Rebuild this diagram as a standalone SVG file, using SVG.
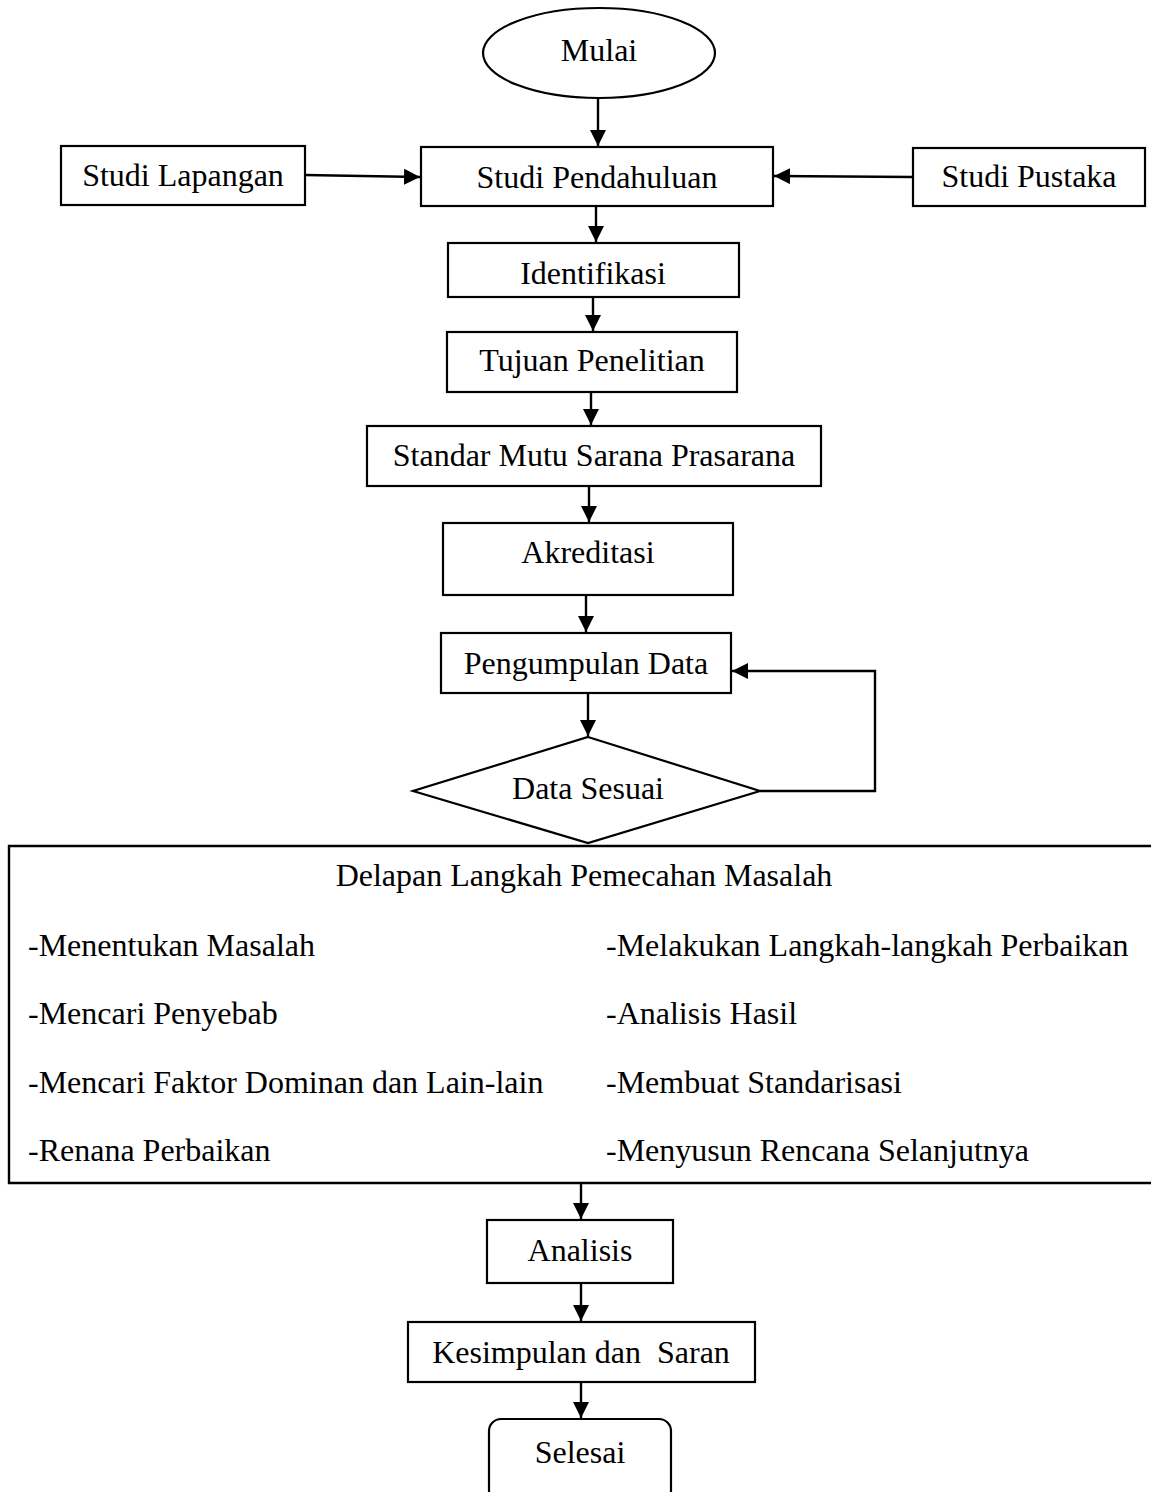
<svg xmlns="http://www.w3.org/2000/svg" width="1151" height="1492" viewBox="0 0 1151 1492">
<style>
.s{fill:#fff;stroke:#000;stroke-width:2.2}
.t{font-family:"Liberation Serif","Times New Roman",serif;font-size:32px;fill:#000}
.m{text-anchor:middle}
.c{fill:none;stroke:#000;stroke-width:2.4}
</style>
<defs>
<marker id="ah" markerUnits="userSpaceOnUse" markerWidth="17" markerHeight="16" refX="16" refY="8" orient="auto">
<path d="M0,0 L16,8 L0,16 z" fill="#000"/>
</marker>
</defs>
<rect width="1151" height="1492" fill="#fff"/>
<g id="connectors">
<line class="c" x1="598" y1="99" x2="598" y2="146" marker-end="url(#ah)"/>
<line class="c" x1="305" y1="175" x2="420" y2="177" marker-end="url(#ah)"/>
<line class="c" x1="913" y1="177" x2="774" y2="176" marker-end="url(#ah)"/>
<line class="c" x1="596" y1="206" x2="596" y2="242" marker-end="url(#ah)"/>
<line class="c" x1="593" y1="297" x2="593" y2="331" marker-end="url(#ah)"/>
<line class="c" x1="591" y1="392" x2="591" y2="425" marker-end="url(#ah)"/>
<line class="c" x1="589" y1="486" x2="589" y2="522" marker-end="url(#ah)"/>
<line class="c" x1="586" y1="595" x2="586" y2="632" marker-end="url(#ah)"/>
<line class="c" x1="588" y1="693" x2="588" y2="736" marker-end="url(#ah)"/>
<polyline class="c" points="760,791 875,791 875,671 732,671" marker-end="url(#ah)"/>
<line class="c" x1="581" y1="1183" x2="581" y2="1219" marker-end="url(#ah)"/>
<line class="c" x1="581" y1="1283" x2="581" y2="1321" marker-end="url(#ah)"/>
<line class="c" x1="581" y1="1382" x2="581" y2="1418" marker-end="url(#ah)"/>
</g>
<g id="mulai">
<ellipse class="s" cx="599" cy="53" rx="116" ry="45"/>
<text class="t m" x="599" y="61">Mulai</text>
</g>
<g id="studi-lapangan">
<rect class="s" x="61" y="146" width="244" height="59"/>
<text class="t m" x="183" y="186">Studi Lapangan</text>
</g>
<g id="studi-pendahuluan">
<rect class="s" x="421" y="147" width="352" height="59"/>
<text class="t m" x="597" y="188">Studi Pendahuluan</text>
</g>
<g id="studi-pustaka">
<rect class="s" x="913" y="148" width="232" height="58"/>
<text class="t m" x="1029" y="187">Studi Pustaka</text>
</g>
<g id="identifikasi">
<rect class="s" x="448" y="243" width="291" height="54"/>
<text class="t m" x="593" y="284">Identifikasi</text>
</g>
<g id="tujuan">
<rect class="s" x="447" y="332" width="290" height="60"/>
<text class="t m" x="592" y="371">Tujuan Penelitian</text>
</g>
<g id="standar">
<rect class="s" x="367" y="426" width="454" height="60"/>
<text class="t m" x="594" y="466">Standar Mutu Sarana Prasarana</text>
</g>
<g id="akreditasi">
<rect class="s" x="443" y="523" width="290" height="72"/>
<text class="t m" x="588" y="563">Akreditasi</text>
</g>
<g id="pengumpulan">
<rect class="s" x="441" y="633" width="290" height="60"/>
<text class="t m" x="586" y="674">Pengumpulan Data</text>
</g>
<g id="data-sesuai">
<polygon class="s" points="588,737 760,791 588,843 413,791"/>
<text class="t m" x="588" y="799">Data Sesuai</text>
</g>
<g id="delapan-langkah">
<path class="c" d="M1151,846 H9 V1183 H1151"/>
<text class="t m" x="584" y="886">Delapan Langkah Pemecahan Masalah</text>
<text class="t" x="28" y="956">-Menentukan Masalah</text>
<text class="t" x="28" y="1024">-Mencari Penyebab</text>
<text class="t" x="28" y="1093">-Mencari Faktor Dominan dan Lain-lain</text>
<text class="t" x="28" y="1161">-Renana Perbaikan</text>
<text class="t" x="606" y="956">-Melakukan Langkah-langkah Perbaikan</text>
<text class="t" x="606" y="1024">-Analisis Hasil</text>
<text class="t" x="606" y="1093">-Membuat Standarisasi</text>
<text class="t" x="606" y="1161">-Menyusun Rencana Selanjutnya</text>
</g>
<g id="analisis">
<rect class="s" x="487" y="1220" width="186" height="63"/>
<text class="t m" x="580" y="1261">Analisis</text>
</g>
<g id="kesimpulan">
<rect class="s" x="408" y="1322" width="347" height="60"/>
<text class="t m" x="581" y="1363" xml:space="preserve">Kesimpulan dan  Saran</text>
</g>
<g id="selesai">
<rect class="s" x="489" y="1419" width="182" height="90" rx="12" ry="12"/>
<text class="t m" x="580" y="1463">Selesai</text>
</g>
</svg>
